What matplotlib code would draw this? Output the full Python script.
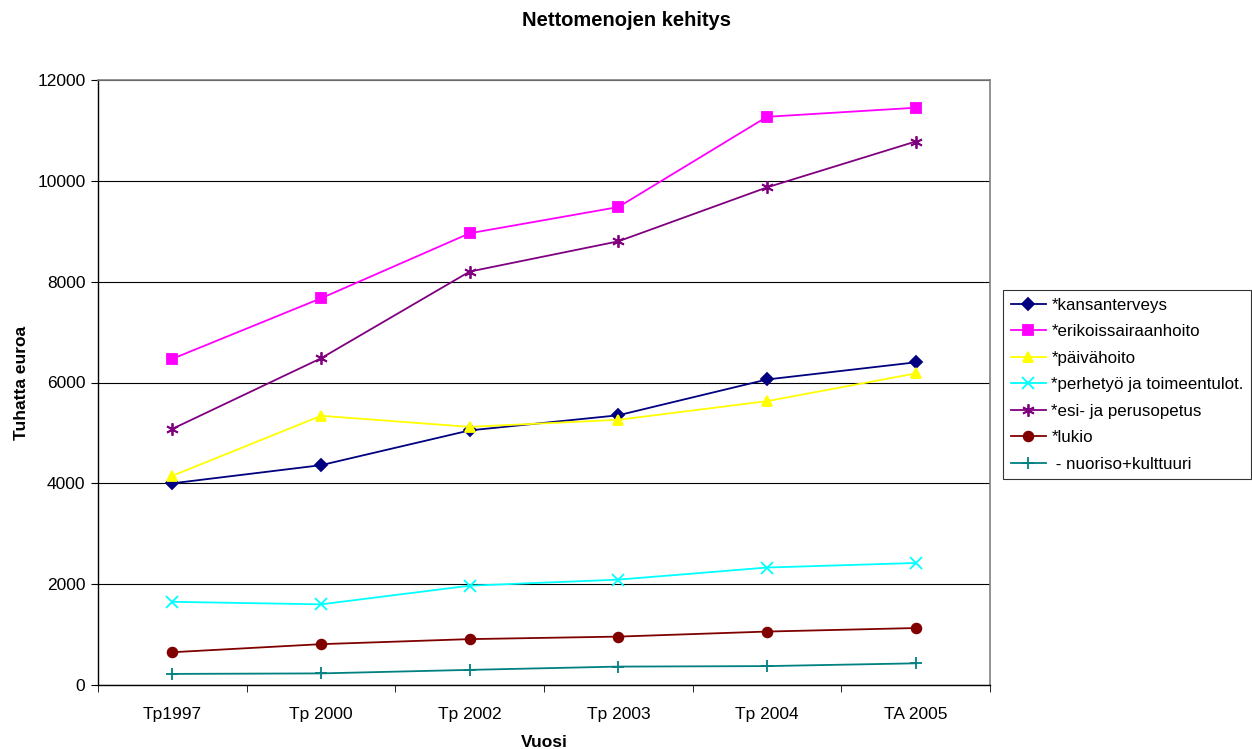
import matplotlib
matplotlib.use("Agg")
import matplotlib.pyplot as plt
import numpy as np

plt.rcParams['font.family'] = ['Liberation Sans', 'DejaVu Sans']

categories = ["Tp1997", "Tp 2000", "Tp 2002", "Tp 2003", "Tp 2004", "TA 2005"]
kansanterveys = [4000, 4360, 5050, 5350, 6060, 6400]
erikoissairaanhoito = [6470, 7670, 8960, 9480, 11270, 11450]
paivahoito = [4150, 5340, 5120, 5260, 5630, 6180]
perhetyo = [1650, 1600, 1970, 2090, 2330, 2420]
esi_perusopetus = [5080, 6480, 8200, 8800, 9870, 10780]
lukio = [650, 810, 910, 960, 1060, 1130]
nuoriso = [220, 230, 300, 365, 375, 430]

labels = ["*kansanterveys", "*erikoissairaanhoito", "*päivähoito",
          "*perhetyö ja toimeentulot.", "*esi- ja perusopetus", "*lukio",
          " - nuoriso+kulttuuri"]
series = [kansanterveys, erikoissairaanhoito, paivahoito, perhetyo,
          esi_perusopetus, lukio, nuoriso]
colors = ["#000080", "#FF00FF", "#FFFF00", "#00FFFF", "#800080", "#800000", "#008080"]
markers = ["D", "s", "^", "x", (6, 2, 0), "o", "+"]
msizes = [6, 7, 7, 8, 9, 7, 9]

fig = plt.figure(figsize=(12.52, 7.49), dpi=100)
ax = fig.add_axes([98/1252, 1-685/749, (990-98)/1252, (685-80)/749])

x = np.arange(len(categories))
for vals, lab, c, m, ms in zip(series, labels, colors, markers, msizes):
    ax.plot(x, vals, color=c, marker=m, markersize=ms, linewidth=1.3,
            label=lab, markeredgecolor=c, markerfacecolor=c, markeredgewidth=1.3)

ax.set_xlim(-0.5, len(categories) - 0.5)
ax.set_ylim(0, 12000)
ax.set_yticks(np.arange(0, 12001, 2000))
ax.yaxis.grid(True, color="black", linewidth=0.8)
ax.set_axisbelow(True)
ax.set_xticks(x)
ax.set_xticklabels(categories, fontsize=12.5)
ax.set_xticks(np.arange(-0.5, len(categories), 1.0), minor=True)
ax.tick_params(axis='x', which='major', length=0, pad=16)
ax.tick_params(axis='x', which='minor', length=5, direction='out', color='black')
ax.tick_params(axis='y', length=5, direction='out', labelsize=12.5, pad=4)

for s in ['top', 'right']:
    ax.spines[s].set_color('#808080')
    ax.spines[s].set_linewidth(1.2)
for s in ['left', 'bottom']:
    ax.spines[s].set_color('black')
    ax.spines[s].set_linewidth(1.0)

ax.set_xlabel("Vuosi", fontsize=12.5, fontweight='bold', labelpad=9)
ax.set_ylabel("Tuhatta euroa", fontsize=12.5, fontweight='bold', labelpad=6)
fig.text(0.5, 1-20/749, "Nettomenojen kehitys", ha='center', va='center',
         fontsize=14.5, fontweight='bold')

leg = fig.legend(loc='upper left', bbox_to_anchor=(1003/1252, 1-290/749),
                 frameon=True, fancybox=False, edgecolor='black', fontsize=12.2,
                 handlelength=2.1, borderpad=0.45, labelspacing=0.68,
                 handletextpad=0.3, borderaxespad=0)
leg.get_frame().set_linewidth(0.8)

fig.savefig("out.png", dpi=100)
